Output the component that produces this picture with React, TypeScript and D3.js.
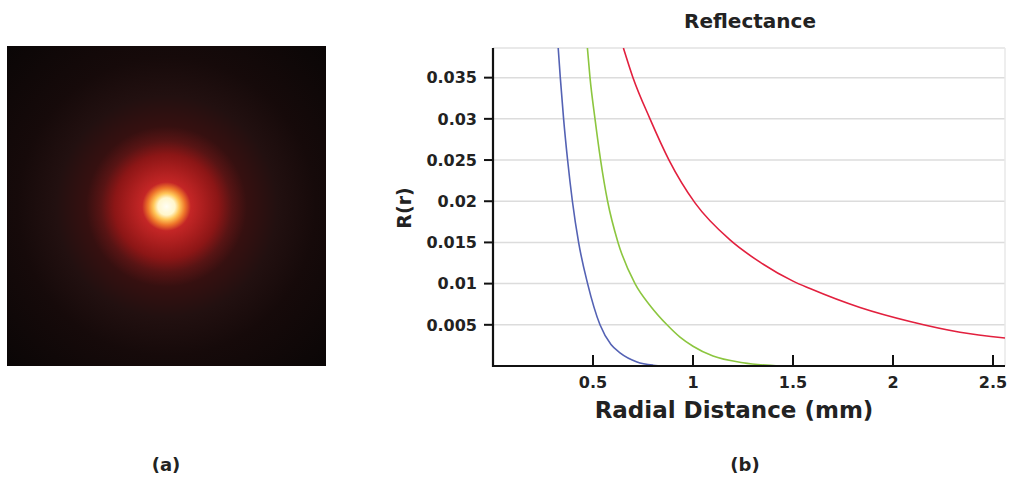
import React from 'react'
import * as d3 from 'd3'

// values: radial distance (mm) -> R(r)
const blueR = [0.326, 0.3365, 0.353, 0.373, 0.397, 0.428, 0.473, 0.535, 0.59, 0.635, 0.72, 0.8, 0.86]
const blueV = [0.0386, 0.035, 0.03, 0.025, 0.02, 0.015, 0.01, 0.005, 0.0026, 0.0016, 0.0005, 0.0001, 0]
const greenR = [0.472, 0.485, 0.51, 0.538, 0.573, 0.625, 0.71, 0.79, 0.87, 0.935, 1.0, 1.1, 1.25, 1.43]
const greenV = [0.0386, 0.035, 0.03, 0.025, 0.02, 0.015, 0.01, 0.0072, 0.005, 0.0035, 0.0024, 0.0012, 0.0004, 0]
const redR = [0.652, 0.7, 0.785, 0.88, 1.01, 1.185, 1.335, 1.5, 1.585, 1.835, 2.085, 2.335, 2.56]
const redV = [0.0386, 0.035, 0.03, 0.025, 0.0198, 0.0153, 0.0126, 0.0103, 0.0094, 0.0071, 0.0054, 0.0041, 0.0034]

const yTicks = [0.005, 0.01, 0.015, 0.02, 0.025, 0.03, 0.035]
const xTicks = [0.5, 1, 1.5, 2, 2.5]

const series = [
  { name: 'blue', r: blueR, v: blueV, color: '#5462b4' },
  { name: 'green', r: greenR, v: greenV, color: '#8cc63f' },
  { name: 'red', r: redR, v: redV, color: '#e2203e' },
]

// spot image stops (offset, colour)
const spotStops: [number, string][] = [
  [0, '#fffef4'],
  [0.038, '#fff6cc'],
  [0.058, '#ffc658'],
  [0.082, '#ee762a'],
  [0.108, '#c42626'],
  [0.18, '#a41c1c'],
  [0.23, '#8c1616'],
  [0.29, '#581414'],
  [0.355, '#361010'],
  [0.49, '#221010'],
  [0.66, '#160a0a'],
  [1, '#0a0606'],
]

const font = '"DejaVu Sans", sans-serif'

export default function App() {
  const left = 493
  const right = 1005
  const top = 48
  const bottom = 366

  const x = d3.scaleLinear().domain([0, 2.56]).range([left, right])
  const y = d3.scaleLinear().domain([0, 0.0386]).range([bottom, top])

  const line = d3
    .line<[number, number]>()
    .x(d => x(d[0]))
    .y(d => y(d[1]))
    .curve(d3.curveMonotoneX)

  const fmt = (d: number) => String(d)

  return (
    <svg
      width={1009}
      height={479}
      style={{ position: 'absolute', left: 0, top: 0, display: 'block', background: '#fff' }}
    >
      <defs>
        <radialGradient id="spot" gradientUnits="userSpaceOnUse" cx={166.5} cy={206.5} r={226}>
          {spotStops.map(([o, c]) => (
            <stop key={o} offset={o} stopColor={c} />
          ))}
        </radialGradient>
        <clipPath id="plot">
          <rect x={left} y={top} width={right - left} height={bottom - top} />
        </clipPath>
      </defs>

      {/* (a) spot */}
      <rect x={7} y={46} width={319} height={320} fill="url(#spot)" />
      <text x={166} y={471} textAnchor="middle" fontFamily={font} fontWeight="bold" fontSize={18} fill="#222">
        (a)
      </text>

      {/* (b) reflectance chart */}
      <text x={750} y={28} textAnchor="middle" fontFamily={font} fontWeight="bold" fontSize={20} fill="#222">
        Reflectance
      </text>

      <g>
        {yTicks.map(t => (
          <line key={t} x1={left} x2={right} y1={y(t)} y2={y(t)} stroke="#dcdcdc" strokeWidth={1.5} />
        ))}
        <line x1={left} x2={right} y1={top} y2={top} stroke="#e2e2e2" strokeWidth={1.5} />
        <line x1={right} x2={right} y1={top} y2={bottom} stroke="#e8e8e8" strokeWidth={1.5} />
      </g>

      <g clipPath="url(#plot)" fill="none">
        {series.map(s => (
          <path
            key={s.name}
            d={line(s.r.map((r, i) => [r, s.v[i]] as [number, number])) || ''}
            stroke={s.color}
            strokeWidth={1.6}
          />
        ))}
      </g>

      {/* y axis */}
      <line x1={left} x2={left} y1={top} y2={bottom + 1} stroke="#111" strokeWidth={2.2} />
      {yTicks.map(t => (
        <g key={t} transform={`translate(0,${y(t)})`}>
          <line x1={left - 9} x2={left} stroke="#111" strokeWidth={2} />
          <text
            x={left - 16}
            dy="0.36em"
            textAnchor="end"
            fontFamily={font}
            fontWeight="bold"
            fontSize={16}
            fill="#222"
          >
            {fmt(t)}
          </text>
        </g>
      ))}

      {/* x axis */}
      <line x1={left - 1} x2={right} y1={bottom} y2={bottom} stroke="#111" strokeWidth={2.2} />
      {xTicks.map(t => (
        <g key={t} transform={`translate(${x(t)},0)`}>
          <line y1={bottom - 11} y2={bottom} stroke="#111" strokeWidth={2} />
          <text y={bottom + 22} textAnchor="middle" fontFamily={font} fontWeight="bold" fontSize={16} fill="#222">
            {fmt(t)}
          </text>
        </g>
      ))}

      <text x={734} y={418} textAnchor="middle" fontFamily={font} fontWeight="bold" fontSize={23} fill="#222">
        Radial Distance (mm)
      </text>
      <text
        transform="translate(411,208) rotate(-90)"
        textAnchor="middle"
        fontFamily={font}
        fontWeight="bold"
        fontSize={19}
        fill="#222"
      >
        R(r)
      </text>

      <text x={745} y={471} textAnchor="middle" fontFamily={font} fontWeight="bold" fontSize={18} fill="#222">
        (b)
      </text>
    </svg>
  )
}
